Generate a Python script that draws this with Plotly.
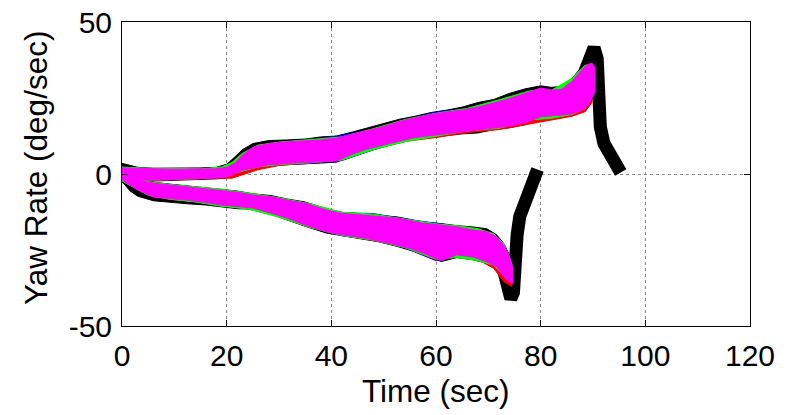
import plotly.graph_objects as go

# ---------------- data ----------------
# Upper branch (positive yaw) fine time grid
U_T = [0, 3, 6, 9, 12, 15, 18, 20, 21.5, 23, 25, 28, 31.5, 35, 38, 41, 44, 47, 50, 53,
       56, 59, 62, 65, 68, 71, 74, 77, 80, 82, 84, 86, 88, 89, 89.8, 90.4]
MAG_U_HI = [2, 1.8, 1.6, 1.6, 1.6, 1.6, 1.7, 2.2, 3.5, 6.2, 8.8, 10, 10.6, 10.9, 11.2, 11.8,
            13, 14.3, 15.6, 17.3, 18.4, 19.6, 20.4, 21, 22, 23.4, 24.8, 26.5, 28.3, 27.6,
            27.8, 30.5, 34.5, 36, 36.5, 35]
MAG_U_LO = [-2, -2, -2, -1.8, -1.6, -1.5, -1.3, -1, 0, 1.2, 2, 3, 3.5, 3.8, 4, 4.3, 6.5, 8.3,
            9.5, 10.8, 12, 12.6, 13.2, 13.9, 14.5, 15.1, 15.7, 16.8, 18.8, 19, 19.4, 19.8,
            21, 22.5, 25, 27]
BLK_U_HI = [3.5, 2.2, 1.9, 1.9, 1.9, 2, 2.2, 3.2, 5.5, 8, 10, 11, 11.2, 11.5, 12.2, 12.5,
            13.8, 15.2, 16.5, 18, 19, 20.2, 21, 22, 23.5, 24.5, 26.5, 28, 29, 28.5, 28.8,
            31.5, 35.5, 37, 37.5, 36]
BLK_U_LO = [-2.5, -2.5, -2.3, -2.1, -1.9, -1.8, -1.6, -1.3, -0.3, 0.8, 1.6, 2.6, 3.1, 3.4,
            3.6, 3.9, 6, 7.8, 9, 10.2, 11.5, 12.2, 12.7, 13.2, 13.5, 14.6, 15.2, 16.2, 18.2,
            18.5, 18.9, 19.4, 20.5, 22, 24.5, 26.5]

# Lower branch (negative yaw) fine time grid
L_T = [0, 1.5, 3, 6, 9, 12.5, 16, 19, 22, 25, 28.5, 31.5, 35, 39, 42, 46, 49, 52.5, 55,
       57.5, 61, 64, 67, 69.7, 71.6, 73, 74, 74.7]
MAG_L_HI = [1.3, 0, -2, -3, -3.6, -4.2, -4.8, -5.3, -6, -6.9, -7.5, -8.6, -9.6, -11.8, -13,
            -13.5, -14, -14.5, -15.3, -16.2, -16.8, -17.4, -18.4, -19, -20.7, -23.5, -27, -31]
MAG_L_LO = [-2, -3.5, -5.3, -7.6, -8.1, -8.6, -9.4, -10.2, -10.7, -11.2, -12.9, -14.5, -16.8,
            -19, -20, -21, -22, -23.4, -24.5, -26, -28.5, -26.6, -27.3, -28.9, -30.6, -34,
            -35.5, -36]
BLK_L_HI = [1.6, 0.3, -1.6, -2.7, -3.3, -3.9, -4.4, -4.9, -5.6, -6.5, -7.1, -8.2, -9.2, -11.4,
            -12.6, -13.1, -13.6, -14.1, -14.9, -15.8, -16.3, -17.0, -17.4, -18.0, -20.0,
            -23.0, -26.5, -30.5]
BLK_L_LO = [-2.5, -5.5, -7.3, -8.8, -9.3, -9.8, -10.2, -10.8, -11.4, -11.6, -13.3, -15, -17.2,
            -19.4, -20.4, -21.4, -22.3, -23.8, -25.0, -26.3, -28.8, -27.5, -28.2, -29.3, -31,
            -34.5, -36, -36.5]

# Coarser grids for the blue / red / green runs
UC_T = [0, 5, 10, 15, 19, 21, 23, 26, 30, 36, 42, 48, 54, 60, 66, 72, 78, 82, 86, 88.5, 89.8]
GRN_U_HI = [2.3, 1.9, 1.8, 1.7, 2.3, 3.8, 6.8, 9.5, 10.5, 11.3, 12.2, 14.9, 17.9, 20.0, 21.6,
            24.4, 27.4, 27.5, 31.5, 35.8, 36.0]
GRN_U_LO = [-2.2, -1.9, -1.8, -1.5, -1.0, 0.0, 1.0, 2.3, 3.1, 3.7, 4.6, 8.0, 10.6, 12.3, 14.2,
            15.0, 17.8, 18.3, 19.6, 21.5, 25]
BLU_U_HI = [2.1, 1.8, 1.8, 1.6, 2.0, 2.8, 6.0, 9.1, 10.4, 11.2, 12.7, 14.6, 17.6, 20.4, 21.4,
            23.6, 26.6, 27.7, 30.3, 34.5, 36]
BLU_U_LO = [-2.3, -2.1, -1.8, -1.6, -1.2, 0.2, 1.3, 2.0, 2.9, 3.5, 4.4, 7.9, 10.9, 12.9, 14.0,
            15.2, 17.1, 18.7, 19.5, 21.2, 24.5]
RED_U_HI = [1.9, 1.6, 1.5, 1.5, 1.8, 2.4, 6.0, 9.0, 10.2, 10.8, 12.0, 14.4, 17.5, 19.8, 21.1,
            23.6, 26.8, 27.3, 30.2, 34.8, 36.0]
RED_U_LO = [-2.2, -2.2, -1.9, -1.7, -1.4, -1.4, -0.3, 1.4, 2.8, 3.6, 4.6, 8.2, 10.7, 12.0,
            13.6, 14.6, 16.5, 17.8, 19.0, 20.5, 23.5]

LC_T = [0, 2, 5, 9, 14, 19, 24, 30, 36, 42, 48, 54, 60, 64, 68, 71, 73, 74.5]
GRN_L_HI = [1.5, -0.5, -2.5, -3.4, -4.2, -5.0, -6.2, -7.8, -9.8, -12.6, -13.2, -14.7, -16.4,
            -17.0, -18.0, -19.6, -23.0, -29.5]
GRN_L_LO = [-2.3, -4.3, -7.0, -8.3, -9.2, -10.6, -11.5, -14.2, -17.6, -20.2, -21.8, -24.2,
            -28.0, -27.5, -28.5, -30.0, -33.5, -35.5]
BLU_L_HI = [1.4, -0.6, -2.7, -3.5, -4.3, -5.2, -6.5, -7.9, -10.0, -12.8, -13.0, -14.8, -16.2,
            -17.3, -18.4, -20.0, -23.4, -30]
BLU_L_LO = [-2.2, -4.2, -6.9, -8.2, -9.0, -10.4, -11.2, -13.9, -17.5, -20.3, -21.6, -24.3,
            -28.5, -27.0, -28.0, -30.5, -34.5, -36]
RED_L_HI = [1.2, -0.8, -2.9, -3.7, -4.6, -5.4, -6.7, -8.2, -10.2, -13.1, -13.9, -15.1, -16.7,
            -17.5, -18.7, -20.2, -23.6, -30]
RED_L_LO = [-2.1, -4.1, -6.9, -8.3, -9.1, -10.5, -11.4, -14.0, -17.6, -20.1, -21.8, -24.1,
            -28.2, -27.0, -28.2, -31.0, -35.5, -37]

# Black run continues after the others stop (return to zero)
BLK_TAIL_U_T = [88.3, 89.3, 90.2, 90.8, 90.9, 91.4, 92.1, 93.0, 94.0, 95.0, 95.3]
BLK_TAIL_U_Y = [33, 38.5, 41.5, 38, 25, 15.5, 10, 7.5, 5, 1.5, 0.5]
BLK_TAIL_L_T = [72.8, 73.6, 74.3, 74.8, 75.0, 75.5, 76.0, 76.9, 78.0, 79.0, 79.4]
BLK_TAIL_L_Y = [-31, -37, -41, -39, -28, -20, -14, -9.5, -5, -0.5, 1.5]

X_TICKS = [0, 20, 40, 60, 80, 100, 120]
X_TICKTEXT = ["0", "20", "40", "60", "80", "100", "120"]
Y_TICKS = [-50, 0, 50]
Y_TICKTEXT = ["-50", "0", "50"]

BLACK, BLUE, RED, GREEN, MAGENTA = "#000000", "#0000ff", "#ff0000", "#00ff00", "#ff00ff"

fig = go.Figure()


def band(t, hi, lo, color):
    fig.add_trace(go.Scatter(
        x=list(t) + list(t)[::-1], y=list(hi) + list(lo)[::-1],
        mode="lines", fill="toself", fillcolor=color,
        line=dict(color=color, width=1), hoverinfo="skip", showlegend=False))


# black run
band(U_T, BLK_U_HI, BLK_U_LO, BLACK)
band(L_T, BLK_L_HI, BLK_L_LO, BLACK)
for tt, yy in ((BLK_TAIL_U_T, BLK_TAIL_U_Y), (BLK_TAIL_L_T, BLK_TAIL_L_Y)):
    fig.add_trace(go.Scatter(x=tt, y=yy, mode="lines",
                             line=dict(color=BLACK, width=13),
                             hoverinfo="skip", showlegend=False))
# blue, red, green runs
band(UC_T, BLU_U_HI, BLU_U_LO, BLUE)
band(LC_T, BLU_L_HI, BLU_L_LO, BLUE)
band(UC_T, RED_U_HI, RED_U_LO, RED)
band(LC_T, RED_L_HI, RED_L_LO, RED)
band(UC_T, GRN_U_HI, GRN_U_LO, GREEN)
band(LC_T, GRN_L_HI, GRN_L_LO, GREEN)
# magenta run on top
band(U_T, MAG_U_HI, MAG_U_LO, MAGENTA)
band(L_T, MAG_L_HI, MAG_L_LO, MAGENTA)

FONT = "Liberation Sans, Arial, Helvetica, sans-serif"
axis_common = dict(
    showline=True, linecolor="black", linewidth=1, mirror="ticks",
    ticks="inside", ticklen=6, tickwidth=1, tickcolor="black",
    showgrid=True, gridcolor="#8a8a8a", griddash="dot", gridwidth=1,
    zeroline=False, automargin=False, ticklabeloverflow="allow",
    tickfont=dict(family=FONT, size=30, color="black"),
)

fig.update_layout(
    width=790, height=415,
    margin=dict(l=122, r=40, t=22, b=89),
    paper_bgcolor="white", plot_bgcolor="white",
    font=dict(family=FONT, color="black"),
    xaxis=dict(range=[0, 120], tickvals=X_TICKS, ticktext=X_TICKTEXT,
               ticklabelstandoff=3, **axis_common),
    yaxis=dict(range=[-50, 50], tickvals=Y_TICKS, ticktext=Y_TICKTEXT,
               ticklabelstandoff=3, **axis_common),
    annotations=[
        dict(text="Time (sec)", xref="paper", yref="paper", x=0.5, y=-0.215,
             xanchor="center", yanchor="middle", showarrow=False,
             font=dict(family=FONT, size=31.5, color="black")),
        dict(text="Yaw Rate (deg/sec)", xref="paper", yref="paper", x=-0.137, y=0.52,
             xanchor="center", yanchor="middle", textangle=-90, showarrow=False,
             font=dict(family=FONT, size=31.5, color="black")),
    ],
)

# remove the browser's default 8 px page margin so the figure fills the window
fig.write_html("out.html",
               config={"displayModeBar": False},
               post_script="document.body.style.margin='0';document.body.style.overflow='hidden';")
